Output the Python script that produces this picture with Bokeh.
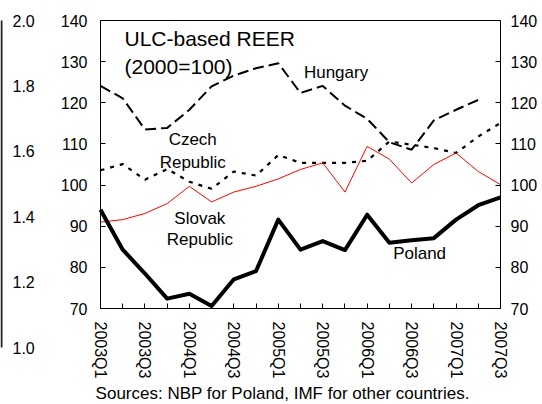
from bokeh.plotting import figure
from bokeh.models import Range1d, LinearAxis, FixedTicker, Label, PrintfTickFormatter
from bokeh.embed import file_html
from bokeh.resources import INLINE

FONT = "Liberation Sans"

quarters = ["2003Q1", "2003Q2", "2003Q3", "2003Q4", "2004Q1", "2004Q2", "2004Q3", "2004Q4",
            "2005Q1", "2005Q2", "2005Q3", "2005Q4", "2006Q1", "2006Q2", "2006Q3", "2006Q4",
            "2007Q1", "2007Q2", "2007Q3"]
poland = [94.0, 84.3, 78.5, 72.4, 73.6, 70.6, 77.1, 79.1, 91.6, 84.3, 86.4, 84.2, 92.8,
          86.0, 86.6, 87.1, 91.6, 95.1, 97.0]
slovak = [91.0, 91.6, 93.1, 95.5, 99.7, 95.9, 98.3, 99.7, 101.5, 103.8, 105.4, 98.3, 109.4,
          106.3, 100.5, 105.0, 107.8, 103.3, 100.1]
czech = [103.6, 105.1, 101.3, 103.9, 100.8, 99.1, 103.3, 102.3, 107.3, 105.4, 105.4, 105.4,
         105.9, 110.6, 109.8, 109.0, 107.8, 111.8, 115.1]
hungary = [124.1, 121.1, 113.5, 113.9, 118.3, 124.0, 126.6, 128.4, 129.6, 122.4, 124.1, 119.3,
           116.1, 110.4, 108.6, 115.7, 118.3, 120.7, float("nan")]

y_ticks = [70, 80, 90, 100, 110, 120, 130, 140]
side_ticks = [1.0, 1.2, 1.4, 1.6, 1.8, 2.0]
title_lines = [("ULC-based REER", 1.08, 135.6), ("(2000=100)", 1.08, 128.8)]
# (text, x index, y value)
series_labels = [("Hungary", 10.6, 127.3), ("Czech", 4.15, 111.0), ("Republic", 4.15, 105.6),
                 ("Slovak", 4.47, 91.8), ("Republic", 4.47, 86.7), ("Poland", 14.36, 83.3)]
source_text = ("Sources: NBP for Poland, IMF for other countries.", -0.22, 49.3)

# ---- layout in pixels (the frame covers the whole canvas) ----
W, H = 540, 402
x0_px, x1_px = 100, 500      # first / last quarter
y140_px, y70_px = 20, 308    # main scale
side_top_px, side_bottom_px = 20, 347   # 2.0 / 1.0 of the neighbouring chart's axis
side_line_px = 1

n = len(quarters)
x = list(range(n))
ppx = (x1_px - x0_px) / (n - 1)
ppy = (y70_px - y140_px) / 70.0
side_ppy = (side_bottom_px - side_top_px) / 1.0

x_range = Range1d(-x0_px / ppx, (n - 1) + (W - x1_px) / ppx)
y_range = Range1d(70 - (H - y70_px) / ppy, 140 + y140_px / ppy)
side_range = Range1d(1.0 - (H - side_bottom_px) / side_ppy, 2.0 + side_top_px / side_ppy)
side_x = (side_line_px - x0_px) / ppx

p = figure(frame_width=W, frame_height=H,
           min_border_left=0, min_border_right=0, min_border_top=0, min_border_bottom=0,
           x_range=x_range, y_range=y_range,
           x_axis_location=None, y_axis_location=None,
           output_backend="svg", toolbar_location=None)
p.extra_y_ranges = {"side": side_range}
p.grid.visible = False
p.outline_line_color = None
p.background_fill_color = None
p.border_fill_color = None

p.line(x, hungary, line_color="black", line_width=2, line_dash="11 5")
p.line(x, czech, line_color="black", line_width=2.2, line_dash="4 6")
p.line(x, slovak, line_color="#ff0000", line_width=1)
p.line(x, poland, line_color="black", line_width=4, line_join="round")


def style(ax, size="16px"):
    ax.minor_tick_line_color = None
    ax.axis_line_color = "black"
    ax.major_tick_line_color = "black"
    ax.major_label_text_font = FONT
    ax.major_label_text_font_size = size
    ax.major_label_text_color = "black"


left_axis = LinearAxis(fixed_location=0, bounds=(70, 140), ticker=FixedTicker(ticks=y_ticks))
style(left_axis)
left_axis.major_tick_in = 5
left_axis.major_tick_out = 0
left_axis.major_label_standoff = 13
p.add_layout(left_axis, "left")

right_axis = LinearAxis(fixed_location=n - 1, bounds=(70, 140), ticker=FixedTicker(ticks=y_ticks))
style(right_axis)
right_axis.major_tick_in = 5
right_axis.major_tick_out = 0
right_axis.major_label_standoff = 10
p.add_layout(right_axis, "right")

bottom_axis = LinearAxis(fixed_location=70, bounds=(0, n - 1), ticker=FixedTicker(ticks=x))
style(bottom_axis)
bottom_axis.major_label_overrides = {i: (q if i % 2 == 0 else "") for i, q in enumerate(quarters)}
bottom_axis.major_label_orientation = "vertical"
bottom_axis.major_tick_in = 5
bottom_axis.major_tick_out = 0
bottom_axis.major_label_standoff = 13
p.add_layout(bottom_axis, "below")

top_axis = LinearAxis(fixed_location=140, bounds=(0, n - 1), ticker=FixedTicker(ticks=[]))
style(top_axis)
top_axis.major_tick_line_color = None
p.add_layout(top_axis, "above")

side_axis = LinearAxis(y_range_name="side", fixed_location=side_x, bounds=(1.0, 2.0),
                       ticker=FixedTicker(ticks=side_ticks),
                       formatter=PrintfTickFormatter(format="%.1f"))
style(side_axis)
side_axis.axis_line_color = "#222222"
side_axis.axis_line_width = 2
side_axis.major_tick_in = 0
side_axis.major_tick_out = 0
side_axis.major_label_standoff = 11
p.add_layout(side_axis, "right")

for t, lx, ly in title_lines:
    p.add_layout(Label(x=lx, y=ly, text=t, text_font=FONT, text_font_size="21px",
                       text_baseline="middle", text_align="left", text_color="black"))
for t, lx, ly in series_labels:
    p.add_layout(Label(x=lx, y=ly, text=t, text_font=FONT, text_font_size="17px",
                       text_baseline="middle", text_align="center", text_color="black"))
p.add_layout(Label(x=source_text[1], y=source_text[2], text=source_text[0], text_font=FONT,
                   text_font_size="17px", text_baseline="middle", text_align="left",
                   text_color="black"))

open("out.html", "w").write(file_html(p, INLINE))
